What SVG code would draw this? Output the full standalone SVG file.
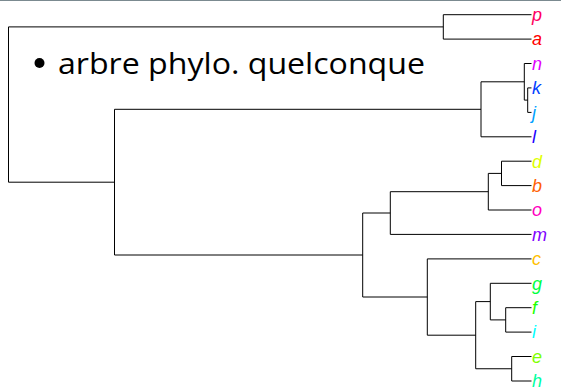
<svg xmlns="http://www.w3.org/2000/svg" width="561" height="391" viewBox="0 0 561 391">
<style>
.e{fill:none;stroke:#000;stroke-width:1}
.lab{font-family:"Liberation Sans",Arial,sans-serif;font-style:italic;font-size:18px}
.title{font-family:"Open Sans","Liberation Sans",sans-serif;font-size:30px;fill:#000}
</style>
<rect x="0" y="0" width="561" height="391" fill="#fff"/>
<line x1="0" y1="0.5" x2="561" y2="0.5" stroke="#7b8a90" stroke-width="1.2"/>
<g id="title">
<circle cx="39.5" cy="63" r="5" fill="#000"/>
<text class="title" x="58" y="73.5" textLength="367" lengthAdjust="spacingAndGlyphs">arbre phylo. quelconque</text>
</g>
<g id="connectors" class="e">
<path d="M8.5 26.9V182.2"/>
<path d="M8.5 26.9H443.3M8.5 182.2H114.5"/>
<path d="M443.3 14.7V39.1M443.3 14.7H531.5M443.3 39.1H531.5"/>
<path d="M114.5 109.3V255M114.5 109.3H481M114.5 255H362.7"/>
<path d="M481 81.8V136.8M481 81.8H524.3M481 136.8H531.5"/>
<path d="M524.3 63.5V100.1M524.3 63.5H531.5M524.3 100.1H527.7"/>
<path d="M527.7 87.9V112.4M527.7 87.9H531.5M527.7 112.4H531.5"/>
<path d="M362.7 213V297M362.7 213H390.3M362.7 297H427.3"/>
<path d="M390.3 191.7V234.4M390.3 191.7H488.3M390.3 234.4H531.5"/>
<path d="M488.3 173.4V210M488.3 173.4H501.5M488.3 210H531.5"/>
<path d="M501.5 161.2V185.6M501.5 161.2H531.5M501.5 185.6H531.5"/>
<path d="M427.3 258.9V335.2M427.3 258.9H531.5M427.3 335.2H475.7"/>
<path d="M475.7 301.6V368.75M475.7 301.6H490.3M475.7 368.75H511.7"/>
<path d="M490.3 283.3V319.9M490.3 283.3H531.5M490.3 319.9H505.7"/>
<path d="M505.7 307.7V332.1M505.7 307.7H531.5M505.7 332.1H531.5"/>
<path d="M511.7 356.5V381M511.7 356.5H531.5M511.7 381H531.5"/>
</g>
<g id="leaf-p"><text class="lab" x="532" y="21" fill="#FF0060">p</text></g>
<g id="leaf-a"><text class="lab" x="532" y="45.4" fill="#FF0000">a</text></g>
<g id="leaf-n"><text class="lab" x="532" y="69.8" fill="#DF00FF">n</text></g>
<g id="leaf-k"><text class="lab" x="532" y="94.2" fill="#0040FF">k</text></g>
<g id="leaf-j"><text class="lab" x="532" y="118.7" fill="#009FFF">j</text></g>
<g id="leaf-l"><text class="lab" x="532" y="143.1" fill="#2000FF">l</text></g>
<g id="leaf-d"><text class="lab" x="532" y="167.5" fill="#DFFF00">d</text></g>
<g id="leaf-b"><text class="lab" x="532" y="191.9" fill="#FF6000">b</text></g>
<g id="leaf-o"><text class="lab" x="532" y="216.3" fill="#FF00BF">o</text></g>
<g id="leaf-m"><text class="lab" x="532" y="240.7" fill="#8000FF">m</text></g>
<g id="leaf-c"><text class="lab" x="532" y="265.2" fill="#FFBF00">c</text></g>
<g id="leaf-g"><text class="lab" x="532" y="289.6" fill="#00FF40">g</text></g>
<g id="leaf-f"><text class="lab" x="532" y="314" fill="#20FF00">f</text></g>
<g id="leaf-i"><text class="lab" x="532" y="338.4" fill="#00FFFF">i</text></g>
<g id="leaf-e"><text class="lab" x="532" y="362.8" fill="#80FF00">e</text></g>
<g id="leaf-h"><text class="lab" x="532" y="387.3" fill="#00FF9F">h</text></g>
</svg>
